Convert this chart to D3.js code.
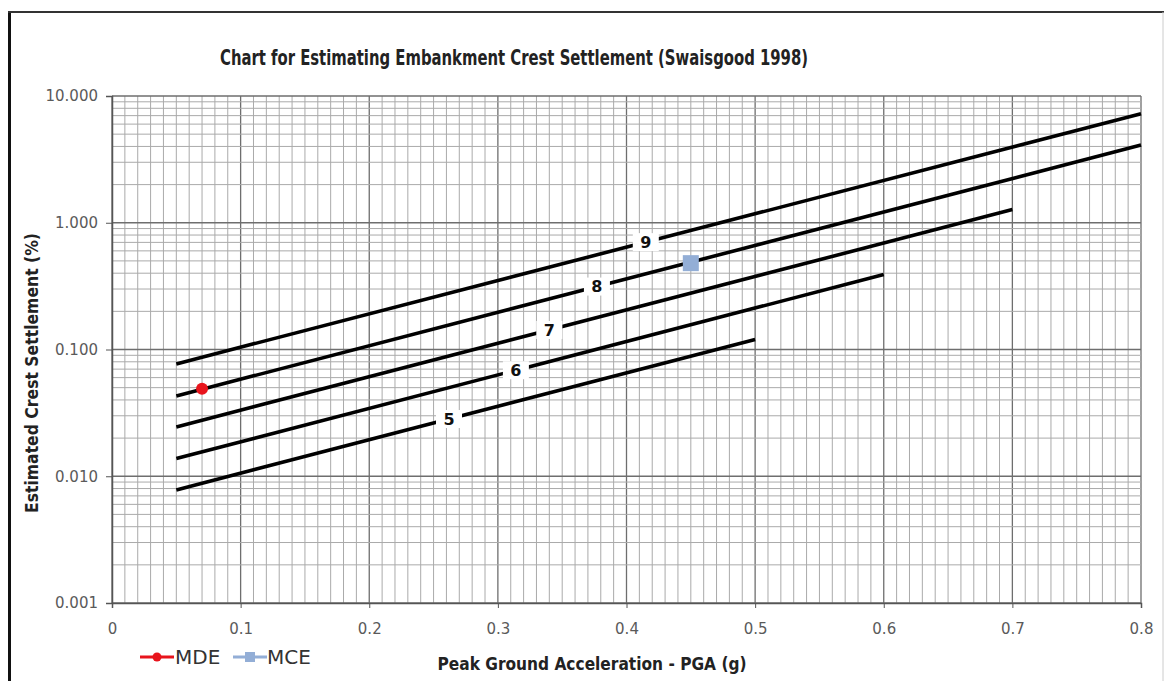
<!DOCTYPE html>
<html>
<head>
<meta charset="utf-8">
<script src="https://cdn.jsdelivr.net/npm/d3@7"></script>
<style>
  body { margin: 0; background: #fff; }
  text { font-family: "DejaVu Sans", sans-serif; }
</style>
</head>
<body>
<div id="chart-area"></div>
<script>
// magnitude curves, [PGA (g), settlement (%)]
const magnitudes = [9, 8, 7, 6, 5];
const curve9 = [[0.05, 0.077], [0.8, 7.25]];
const curve8 = [[0.05, 0.043], [0.8, 4.1]];
const curve7 = [[0.05, 0.0245], [0.7, 1.27]];
const curve6 = [[0.05, 0.0138], [0.6, 0.39]];
const curve5 = [[0.05, 0.0078], [0.5, 0.12]];
const curves = [curve9, curve8, curve7, curve6, curve5];
const labelPga = [0.415, 0.377, 0.34, 0.314, 0.262];

const mde = [[0.07, 0.049]];
const mce = [[0.45, 0.48]];

const xTicks = [0, 0.1, 0.2, 0.3, 0.4, 0.5, 0.6, 0.7, 0.8];
const xTickLabels = ["0", "0.1", "0.2", "0.3", "0.4", "0.5", "0.6", "0.7", "0.8"];
const yTicks = [0.001, 0.01, 0.1, 1, 10];
const yTickLabels = ["0.001", "0.010", "0.100", "1.000", "10.000"];

const chartSize = { width: 1164, height: 681 };
const plot = { left: 112, top: 96, right: 1141, bottom: 603 };

const svg = d3.select("#chart-area")
  .append("svg")
  .attr("width", chartSize.width)
  .attr("height", chartSize.height);

// frame
svg.append("line").attr("x1", 9.5).attr("x2", 9.5).attr("y1", 11).attr("y2", chartSize.height)
  .attr("stroke", "#111").attr("stroke-width", 3);
svg.append("line").attr("x1", 8).attr("x2", chartSize.width).attr("y1", 12).attr("y2", 12)
  .attr("stroke", "#333").attr("stroke-width", 2);
svg.append("line").attr("x1", 1163).attr("x2", 1163).attr("y1", 12).attr("y2", chartSize.height)
  .attr("stroke", "#ccc").attr("stroke-width", 1);

const x = d3.scaleLinear().domain([0, 0.8]).range([plot.left, plot.right]);
const y = d3.scaleLog().domain([0.001, 10]).range([plot.bottom, plot.top]);

const g = svg.append("g");

// grid
const xMinor = d3.range(0, 81).map(i => i / 100);
g.selectAll(".vgrid").data(xMinor).join("line")
  .attr("x1", d => x(d)).attr("x2", d => x(d))
  .attr("y1", plot.top).attr("y2", plot.bottom)
  .attr("stroke", (d, i) => i % 10 === 0 ? "#6e6e6e" : "#aaa")
  .attr("stroke-width", (d, i) => i % 10 === 0 ? 1.3 : 1);

const yMinor = [];
[0.001, 0.01, 0.1, 1].forEach(dec => {
  for (let m = 2; m <= 9; m++) yMinor.push(dec * m);
});
g.selectAll(".hgrid").data(yMinor).join("line")
  .attr("x1", plot.left).attr("x2", plot.right)
  .attr("y1", d => y(d)).attr("y2", d => y(d))
  .attr("stroke", "#aaa").attr("stroke-width", 1);
g.selectAll(".hmajor").data(yTicks).join("line")
  .attr("x1", plot.left).attr("x2", plot.right)
  .attr("y1", d => y(d)).attr("y2", d => y(d))
  .attr("stroke", "#6e6e6e").attr("stroke-width", 1.4);

// axes
const yAxis = d3.axisLeft(y).tickValues(yTicks)
  .tickFormat((d, i) => yTickLabels[i]).tickSize(6).tickPadding(8);
const xAxis = d3.axisBottom(x).tickValues(xTicks)
  .tickFormat((d, i) => xTickLabels[i]).tickSize(5).tickPadding(15);

const yG = svg.append("g").attr("transform", `translate(${plot.left},0)`).call(yAxis);
const xG = svg.append("g").attr("transform", `translate(0,${plot.bottom})`).call(xAxis);
[yG, xG].forEach(a => {
  a.select(".domain").attr("stroke", "#555").attr("stroke-width", 1.5);
  a.selectAll(".tick line").attr("stroke", "#555");
  a.selectAll(".tick text").attr("fill", "#5a5a5a").attr("font-size", 15)
    .attr("font-family", "DejaVu Sans, sans-serif");
});

// curves
const line = d3.line().x(d => x(d[0])).y(d => y(d[1]));
g.selectAll(".curve").data(curves).join("path")
  .attr("d", line)
  .attr("fill", "none")
  .attr("stroke", "#000")
  .attr("stroke-width", 3.6);

// curve labels
const valueAt = (c, p) => {
  const [a, b] = [c[0], c[c.length - 1]];
  const t = (p - a[0]) / (b[0] - a[0]);
  return Math.pow(10, Math.log10(a[1]) + t * (Math.log10(b[1]) - Math.log10(a[1])));
};
const labels = g.selectAll(".clabel").data(magnitudes).join("g")
  .attr("transform", (d, i) => `translate(${x(labelPga[i])},${y(valueAt(curves[i], labelPga[i]))})`);
labels.append("rect").attr("x", -13).attr("y", -9).attr("width", 26).attr("height", 18)
  .attr("fill", "#fff");
labels.append("text").text(d => d)
  .attr("text-anchor", "middle").attr("dy", "0.36em")
  .attr("font-family", "Lato, sans-serif").attr("font-weight", "bold")
  .attr("font-size", 16).attr("fill", "#111");

// points
g.selectAll(".mde").data(mde).join("circle")
  .attr("cx", d => x(d[0])).attr("cy", d => y(d[1])).attr("r", 6)
  .attr("fill", "#e8141c");
g.selectAll(".mce").data(mce).join("rect")
  .attr("x", d => x(d[0]) - 8).attr("y", d => y(d[1]) - 8)
  .attr("width", 16).attr("height", 16)
  .attr("fill", "#93aed6");

// titles
svg.append("text").attr("x", 514).attr("y", 65)
  .attr("text-anchor", "middle")
  .attr("font-family", "Lato, sans-serif").attr("font-weight", "bold")
  .attr("font-size", 22).attr("fill", "#222")
  .attr("textLength", 588).attr("lengthAdjust", "spacingAndGlyphs")
  .text("Chart for Estimating Embankment Crest Settlement (Swaisgood 1998)");

svg.append("text").attr("x", 592).attr("y", 670)
  .attr("text-anchor", "middle")
  .attr("font-family", "Lato, sans-serif").attr("font-weight", "bold")
  .attr("font-size", 17).attr("fill", "#222")
  .attr("textLength", 309).attr("lengthAdjust", "spacingAndGlyphs")
  .text("Peak Ground Acceleration - PGA (g)");

svg.append("text")
  .attr("transform", "translate(38,373) rotate(-90)")
  .attr("text-anchor", "middle")
  .attr("font-family", "Lato, sans-serif").attr("font-weight", "bold")
  .attr("font-size", 17).attr("fill", "#222")
  .attr("textLength", 280).attr("lengthAdjust", "spacingAndGlyphs")
  .text("Estimated Crest Settlement (%)");

// legend
const legendY = 657;
const legend = svg.append("g");
legend.append("line").attr("x1", 140).attr("x2", 174).attr("y1", legendY).attr("y2", legendY)
  .attr("stroke", "#e8141c").attr("stroke-width", 3);
legend.append("circle").attr("cx", 157).attr("cy", legendY).attr("r", 4.5).attr("fill", "#e8141c");
legend.append("text").attr("x", 175).attr("y", legendY + 7)
  .attr("font-family", "Liberation Sans, Arial, sans-serif").attr("font-size", 20).attr("fill", "#333")
  .text("MDE");
legend.append("line").attr("x1", 233).attr("x2", 267).attr("y1", legendY).attr("y2", legendY)
  .attr("stroke", "#93aed6").attr("stroke-width", 3);
legend.append("rect").attr("x", 245).attr("y", legendY - 5).attr("width", 10).attr("height", 10)
  .attr("fill", "#93aed6");
legend.append("text").attr("x", 267).attr("y", legendY + 7)
  .attr("font-family", "Liberation Sans, Arial, sans-serif").attr("font-size", 20).attr("fill", "#333")
  .text("MCE");
</script>
</body>
</html>
